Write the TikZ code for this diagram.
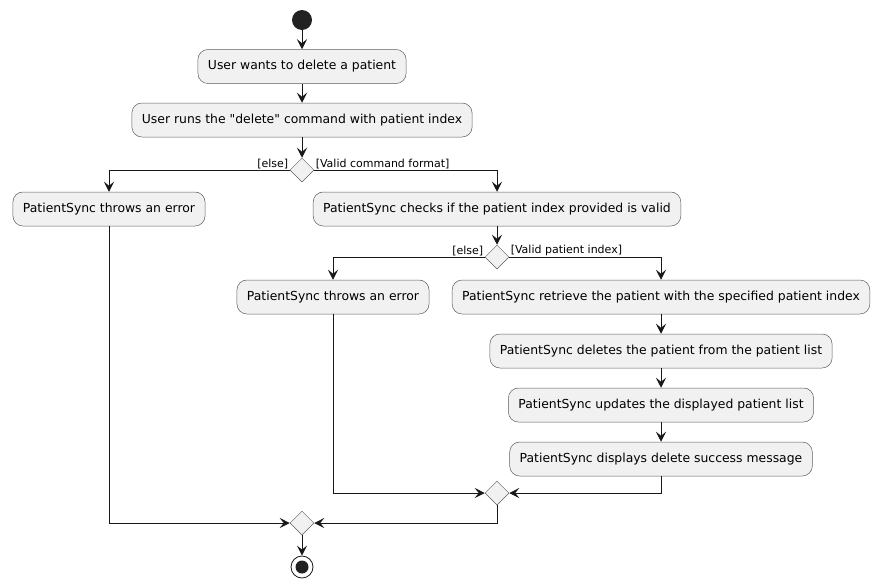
\documentclass[tikz,border=0pt]{standalone}
\usepackage{fontspec}
\setmainfont{DejaVu Sans}
\usetikzlibrary{arrows.meta, shapes.geometric}
\definecolor{action area}{HTML}{F1F1F1}
\definecolor{action edge}{HTML}{181818}
\definecolor{dot area}{HTML}{222222}
\tikzset{
  Action/.style={draw=action edge!70, fill=action area, line width=0.5pt, rounded corners=10pt,
    minimum height=34pt, inner xsep=10pt, font=\fontsize{12.4}{15}\selectfont},
  Decision/.style={diamond, draw=action edge!70, fill=action area, line width=0.5pt,
    minimum size=24pt, inner sep=0pt},
  Start/.style={circle, fill=dot area, minimum size=20pt, inner sep=0pt},
  Stop/.style={circle, draw=action edge, fill=white, line width=0.8pt, minimum size=22pt, inner sep=0pt,
    path picture={\fill[dot area] (path picture bounding box.center) circle (6.5pt);}},
  Guard/.style={inner sep=1pt, font=\fontsize{11}{13}\selectfont},
  flow/.style={-{Stealth[length=10pt, width=10pt, inset=4pt]}, draw=action edge, line width=1pt}
}
\begin{document}
\begin{tikzpicture}[x=1pt, y=-1pt]
    \useasboundingbox (0,0) rectangle (881,587);
    \node[Start] (start) at (302,20) {};
    \node[Action] (wants) at (302,66.5) {User wants to delete a patient};
    \node[Action] (runs) at (302,120) {User runs the \textquotedbl delete\textquotedbl{} command with patient index};
    \node[Decision] (checkCmd) at (302,170) {};
    \node[Action] (errCmd) at (109,209) {PatientSync throws an error};
    \node[Action] (checkIdx) at (497,209) {PatientSync checks if the patient index provided is valid};
    \node[Decision] (validIdx) at (497,257) {};
    \node[Action] (errIdx) at (333,297) {PatientSync throws an error};
    \node[Action] (retrieve) at (661,297) {PatientSync retrieve the patient with the specified patient index};
    \node[Action] (remove) at (661,351) {PatientSync deletes the patient from the patient list};
    \node[Action] (update) at (661,405) {PatientSync updates the displayed patient list};
    \node[Action] (display) at (661,459) {PatientSync displays delete success message};
    \node[Decision] (mergeIdx) at (497,493) {};
    \node[Decision] (mergeCmd) at (302,523) {};
    \node[Stop] (stop) at (302,567) {};

    \draw[flow] (start) -- (wants);
    \draw[flow] (wants) -- (runs);
    \draw[flow] (runs) -- (checkCmd);
    \draw[flow] (checkCmd.west) node[Guard, anchor=south east] {[else]} -| (errCmd);
    \draw[flow] (checkCmd.east) node[Guard, anchor=south west] {[Valid command format]} -| (checkIdx);
    \draw[flow] (checkIdx) -- (validIdx);
    \draw[flow] (validIdx.west) node[Guard, anchor=south east] {[else]} -| (errIdx);
    \draw[flow] (validIdx.east) node[Guard, anchor=south west] {[Valid patient index]} -| (retrieve);
    \draw[flow] (retrieve) -- (remove);
    \draw[flow] (remove) -- (update);
    \draw[flow] (update) -- (display);
    \draw[flow] (errIdx) |- (mergeIdx);
    \draw[flow] (display) |- (mergeIdx);
    \draw[flow] (errCmd) |- (mergeCmd);
    \draw[flow] (mergeIdx) |- (mergeCmd);
    \draw[flow] (mergeCmd) -- (stop);
\end{tikzpicture}
\end{document}
